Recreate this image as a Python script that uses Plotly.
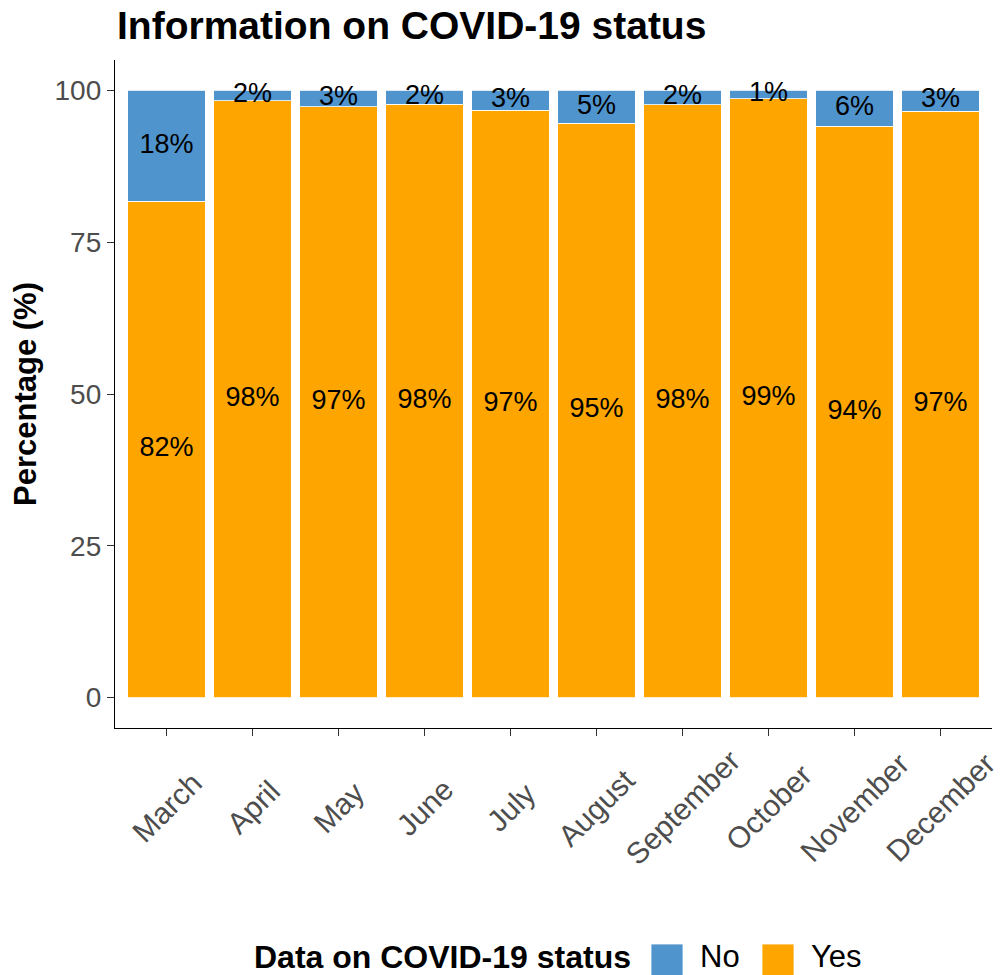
import plotly.graph_objects as go

months = ["March", "April", "May", "June", "July", "August",
          "September", "October", "November", "December"]
yes_pct = [81.7, 98.3, 97.3, 97.7, 96.7, 94.6, 97.6, 98.6, 94.1, 96.6]
no_pct = [round(100 - v, 1) for v in yes_pct]
y_ticks = [0, 25, 50, 75, 100]

BLUE = "#4F94CD"
ORANGE = "#FFA500"
FONT = "Liberation Sans, Arial, sans-serif"

# figure fills the page (body margin removed in post_script)
W, H = 1003, 975
PL, PR, PT, PB = 115, 992, 60, 728  # plot area in page pixels

fig = go.Figure()
fig.add_trace(go.Bar(x=months, y=yes_pct, name="Yes",
                     marker=dict(color=ORANGE, line=dict(color="white", width=0.8)),
                     showlegend=False, width=0.9))
fig.add_trace(go.Bar(x=months, y=no_pct, name="No",
                     marker=dict(color=BLUE, line=dict(color="white", width=0.8)),
                     showlegend=False, width=0.9))

# labels at segment centres
yes_mid = [v / 2 for v in yes_pct]
no_mid = [y + n / 2 for y, n in zip(yes_pct, no_pct)]
fig.add_trace(go.Scatter(x=months, y=yes_mid, mode="text",
                         text=[f"{round(v)}%" for v in yes_pct],
                         textfont=dict(size=27, color="black", family=FONT),
                         showlegend=False, cliponaxis=False, hoverinfo="skip"))
fig.add_trace(go.Scatter(x=months, y=no_mid, mode="text",
                         text=[f"{round(v)}%" for v in no_pct],
                         textfont=dict(size=27, color="black", family=FONT),
                         showlegend=False, cliponaxis=False, hoverinfo="skip"))

fig.update_layout(
    width=W, height=H, autosize=False,
    margin=dict(l=PL, r=W - PR, t=PT, b=H - PB),
    paper_bgcolor="white", plot_bgcolor="white",
    barmode="stack",
    font=dict(family=FONT, color="black"),
    title=dict(text="<b>Information on COVID-19 status</b>",
               x=117 / W, xanchor="left", xref="container",
               y=1 - 25 / H, yanchor="middle", yref="container",
               font=dict(size=39, color="black", family=FONT)),
)
fig.update_yaxes(range=[-5, 105], tickvals=y_ticks, ticktext=[str(t) for t in y_ticks],
                 automargin=False,
                 showgrid=False, zeroline=False, showline=True, linecolor="black", linewidth=1.3,
                 ticks="outside", ticklen=7, tickcolor="#333333", tickwidth=1.3,
                 tickfont=dict(size=28, color="#4D4D4D", family=FONT),
                 title=dict(text="<b>Percentage (%)</b>",
                            font=dict(size=31, color="black", family=FONT), standoff=8))
fig.update_xaxes(range=[-0.6, 9.6], automargin=False, showticklabels=False,
                 showgrid=False, zeroline=False, showline=True, linecolor="black", linewidth=1.3,
                 ticks="outside", ticklen=7, tickcolor="#333333", tickwidth=1.3)


def xp(px):
    return (px - PL) / (PR - PL)


def yp(py):
    return (PB - py) / (PB - PT)


# x tick labels, rotated 45 degrees and centred under each tick (ggplot style)
for m in months:
    fig.add_annotation(text=m, x=m, xref="x", y=yp(807), yref="paper",
                       xanchor="center", yanchor="middle", textangle=-45, showarrow=False,
                       font=dict(size=30, color="#4D4D4D", family=FONT))

# manual legend (ggplot-style, bottom)
fig.add_annotation(text="<b>Data on COVID-19 status</b>", xref="paper", yref="paper",
                   x=xp(633), y=yp(957), xanchor="right", yanchor="middle", showarrow=False,
                   font=dict(size=32, color="black", family=FONT))
for key_left, label, color in [(651, "No", BLUE), (762, "Yes", ORANGE)]:
    fig.add_shape(type="rect", xref="paper", yref="paper",
                  x0=xp(key_left), x1=xp(key_left + 32), y0=yp(976), y1=yp(944),
                  fillcolor=color, line=dict(color="white", width=0.8))
    fig.add_annotation(text=label, xref="paper", yref="paper",
                       x=xp(key_left + 47), y=yp(957), xanchor="left", yanchor="middle",
                       showarrow=False, font=dict(size=31, color="black", family=FONT))

fig.write_html("out.html", config={"displayModeBar": False},
               post_script="document.body.style.margin='0px';document.body.style.overflow='hidden';")
